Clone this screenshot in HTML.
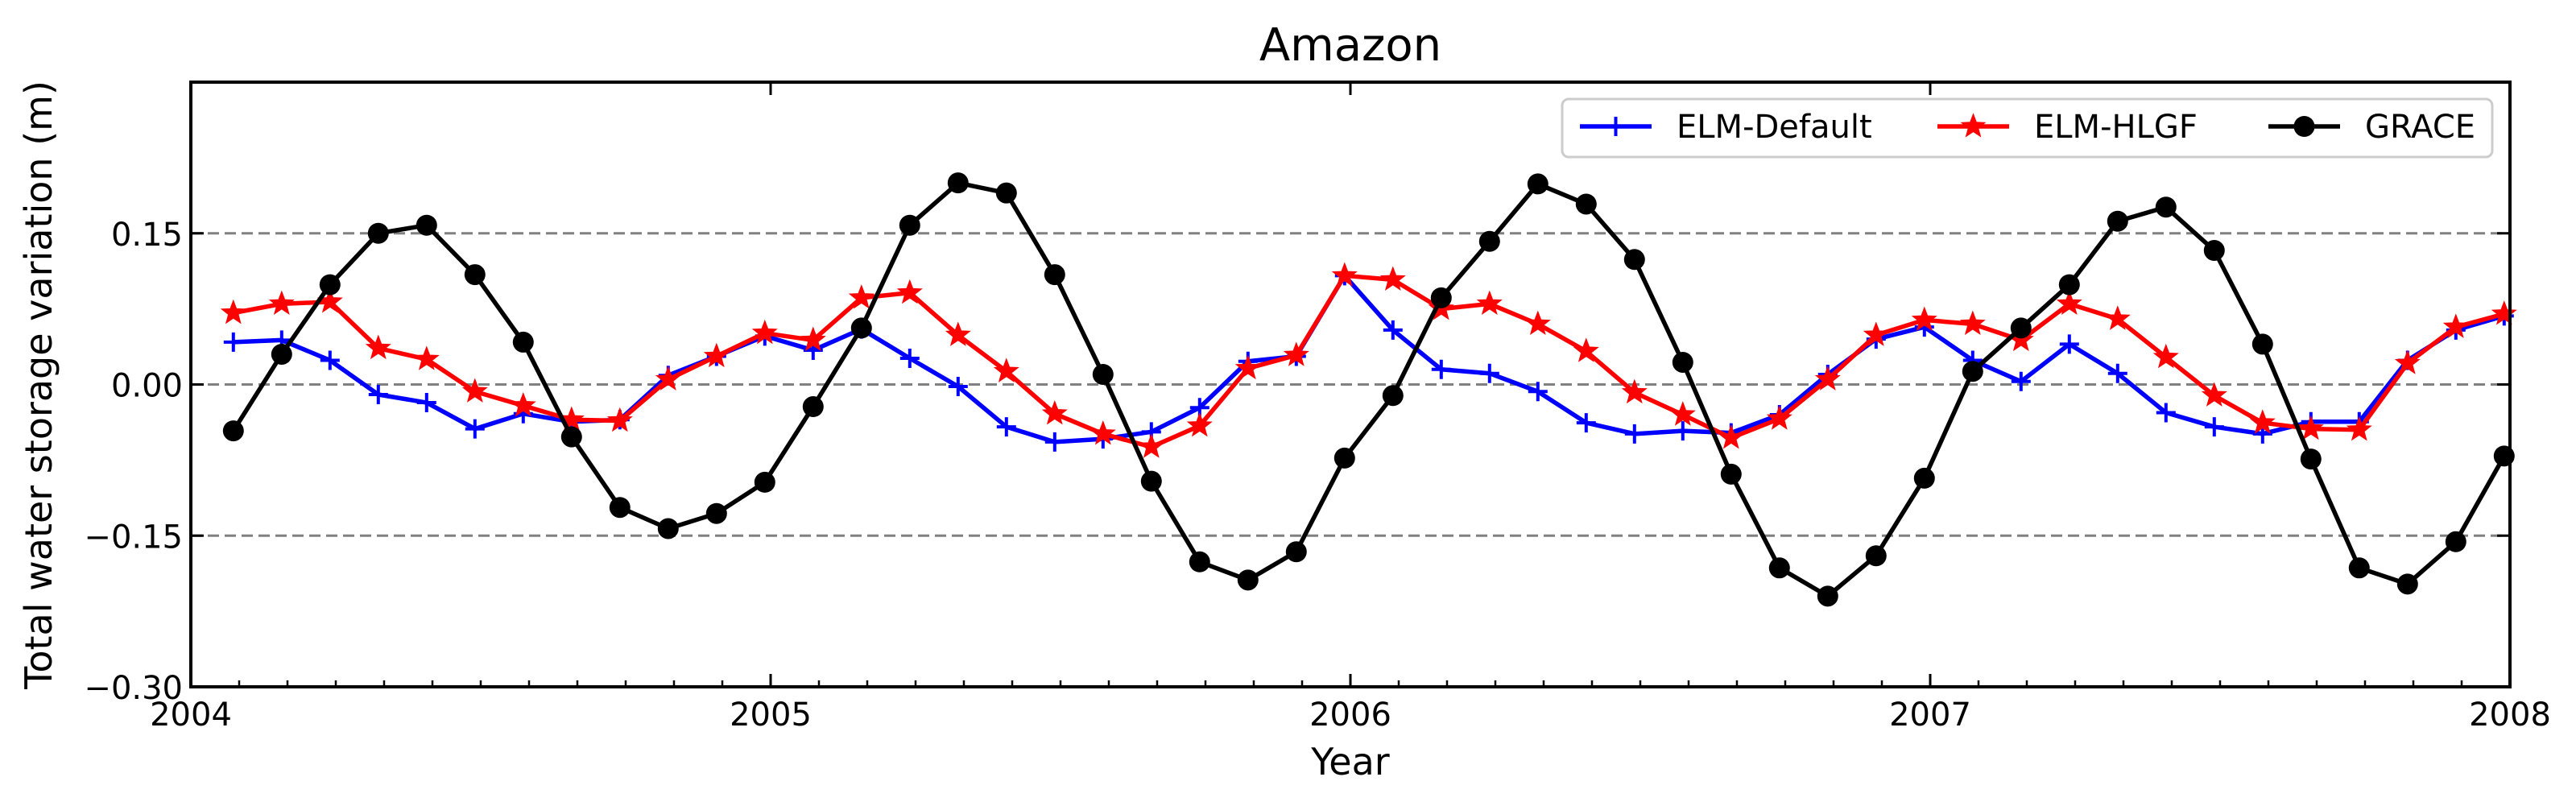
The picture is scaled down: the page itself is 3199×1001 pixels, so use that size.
<!DOCTYPE html>
<html><head><meta charset="utf-8"><style>
body{margin:0;background:#fff}
svg{display:block;font-family:"DejaVu Sans","Liberation Sans",sans-serif}
</style></head><body>
<svg id="chart" width="3199" height="1001" viewBox="0 0 3199 1001" xmlns="http://www.w3.org/2000/svg">
<rect width="3199" height="1001" fill="#fff"/>
<g id="grid"></g>
<g id="series"></g>
<rect x="237" y="102" width="2880" height="751" fill="none" stroke="#000" stroke-width="4"/>
<g id="ticks"></g>
<text x="1677" y="75" font-size="56" text-anchor="middle">Amazon</text>
<text x="1677" y="962" font-size="46" text-anchor="middle">Year</text>
<text x="0" y="0" font-size="46" text-anchor="middle" transform="translate(64,478) rotate(-90)">Total water storage variation (m)</text>
<g id="legend">
<rect x="1940" y="123" width="1155" height="72" rx="8" fill="#fff" fill-opacity="0.8" stroke="#ccc" stroke-width="3"/>
</g>
</svg>
<script>
const grace=[-0.046,0.030,0.099,0.150,0.158,0.109,0.042,-0.052,-0.122,-0.143,-0.128,-0.097,-0.022,0.056,0.158,0.200,0.190,0.109,0.010,-0.096,-0.176,-0.194,-0.166,-0.073,-0.011,0.086,0.142,0.199,0.179,0.124,0.022,-0.089,-0.182,-0.210,-0.170,-0.093,0.013,0.056,0.099,0.162,0.176,0.133,0.040,-0.074,-0.182,-0.198,-0.156,-0.071];
const hlgf=[0.071,0.080,0.082,0.036,0.025,-0.007,-0.021,-0.035,-0.036,0.005,0.028,0.051,0.044,0.086,0.091,0.049,0.013,-0.029,-0.049,-0.062,-0.041,0.016,0.029,0.108,0.104,0.075,0.080,0.060,0.033,-0.008,-0.030,-0.053,-0.034,0.005,0.049,0.064,0.060,0.044,0.080,0.065,0.027,-0.011,-0.038,-0.044,-0.045,0.021,0.057,0.070];
const elmDefault=[0.042,0.044,0.024,-0.010,-0.018,-0.044,-0.029,-0.037,-0.035,0.009,0.028,0.048,0.034,0.055,0.026,-0.002,-0.042,-0.057,-0.054,-0.047,-0.023,0.023,0.028,0.108,0.054,0.015,0.011,-0.007,-0.038,-0.049,-0.046,-0.048,-0.030,0.010,0.045,0.057,0.024,0.003,0.040,0.011,-0.028,-0.042,-0.049,-0.037,-0.037,0.024,0.054,0.068];
const yTicks=[-0.30,-0.15,0.00,0.15];
const yTickLabels=["\u22120.30","\u22120.15","0.00","0.15"];
const xTicks=[2004,2005,2006,2007,2008];
const xTickLabels=["2004","2005","2006","2007","2008"];
const gridVals=[-0.15,0,0.15];
const NS="http://www.w3.org/2000/svg";
const X0=237,X1=3117,Y0=853,Y1=102;
const xs=t=>X0+(t-2004)/4*(X1-X0);
const ys=v=>Y0-(v+0.30)/0.60*(Y0-Y1);
const tOf=i=>2004+(i+0.88)/12;
function el(tag,attrs,parent){const e=document.createElementNS(NS,tag);for(const k in attrs)e.setAttribute(k,attrs[k]);parent.appendChild(e);return e;}
const grid=document.getElementById('grid'),ticks=document.getElementById('ticks'),series=document.getElementById('series'),legend=document.getElementById('legend');
gridVals.forEach(v=>{const l=el('line',{x1:X0,x2:X1,y1:ys(v),y2:ys(v),stroke:'#808080','stroke-width':3,'stroke-dasharray':'14 7'},grid);

});
yTicks.forEach((v,i)=>{const y=ys(v);
el('line',{x1:X0,x2:X0+16,y1:y,y2:y,stroke:'#000','stroke-width':3},ticks);
el('line',{x1:X1,x2:X1-16,y1:y,y2:y,stroke:'#000','stroke-width':3},ticks);
const t=el('text',{x:X0-10,y:y+15,'font-size':40,'text-anchor':'end'},ticks);t.textContent=yTickLabels[i];

});
xTicks.forEach((v,i)=>{const x=xs(v);
el('line',{x1:x,x2:x,y1:Y0,y2:Y0-16,stroke:'#000','stroke-width':3},ticks);
el('line',{x1:x,x2:x,y1:Y1,y2:Y1+16,stroke:'#000','stroke-width':3},ticks);
const t=el('text',{x:x,y:901,'font-size':40,'text-anchor':'middle'},ticks);t.textContent=xTickLabels[i];

});
for(let m=1;m<48;m++){if(m%12===0)continue;const x=xs(2004+m/12);
el('line',{x1:x,x2:x,y1:Y0,y2:Y0-8,stroke:'#000','stroke-width':2.5},ticks);}
function star(cx,cy,r){let p=[];for(let k=0;k<10;k++){const a=-Math.PI/2+k*Math.PI/5,rr=k%2?r*0.42:r;p.push((cx+rr*Math.cos(a)).toFixed(1)+','+(cy+rr*Math.sin(a)).toFixed(1));}return p.join(' ');}
function marker(kind,x,y,color,g){
if(kind==='plus'){el('path',{d:`M${x-12} ${y}H${x+12}M${x} ${y-12}V${y+12}`,stroke:color,'stroke-width':4,fill:'none'},g);}
else if(kind==='star'){el('polygon',{points:star(x,y,14),fill:color,stroke:color,'stroke-width':2},g);}
else{el('circle',{cx:x,cy:y,r:13,fill:color},g);}}
function drawSeries(vals,color,kind,name){
const g=el('g',{},series);


el('polyline',{points:vals.map((v,i)=>xs(tOf(i))+','+ys(v)).join(' '),fill:'none',stroke:color,'stroke-width':5.5,'stroke-linejoin':'round'},g);
vals.forEach((v,i)=>marker(kind,xs(tOf(i)),ys(v),color,g));}
drawSeries(elmDefault,'#0000ff','plus','series-elm-default');
drawSeries(hlgf,'#ff0000','star','series-elm-hlgf');
drawSeries(grace,'#000000','circle','series-grace');
const entries=[['ELM-Default','#0000ff','plus',1962],['ELM-HLGF','#ff0000','star',2406],['GRACE','#000000','circle',2817]];
entries.forEach(e=>{const g=el('g',{},legend);


el('line',{x1:e[3],x2:e[3]+89,y1:157,y2:157,stroke:e[1],'stroke-width':5.5},g);
marker(e[2],e[3]+44.5,157,e[1],g);
const t=el('text',{x:e[3]+120,y:171,'font-size':40},g);t.textContent=e[0];});
</script>
</body></html>
